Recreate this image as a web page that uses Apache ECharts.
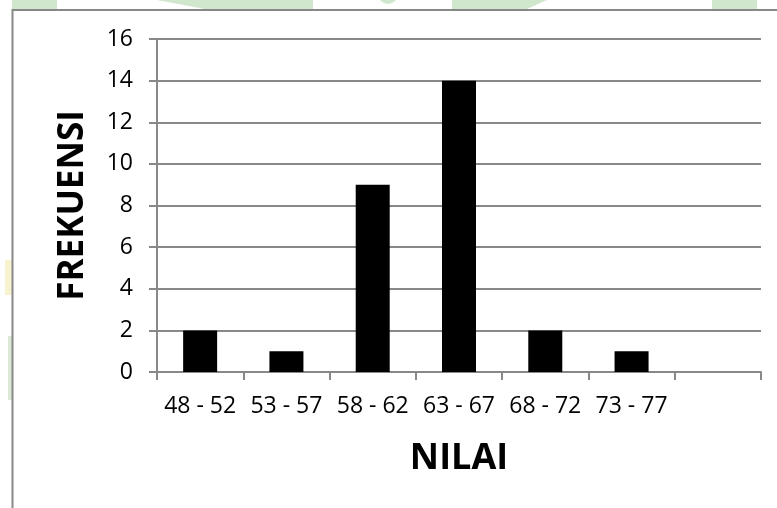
<!DOCTYPE html>
<html>
<head>
<meta charset="utf-8">
<script src="https://cdn.jsdelivr.net/npm/echarts@6/dist/echarts.min.js"></script>
<style>
  html, body { margin: 0; padding: 0; background: #fff; }
  #chart { width: 777px; height: 508px; }
</style>
</head>
<body>
<div id="chart"></div>
<script>
// class intervals (last slot is empty in the original)
const nilaiLabels = ['48 - 52', '53 - 57', '58 - 62', '63 - 67', '68 - 72', '73 - 77', '']
const frekuensi = [2, 1, 9, 14, 2, 1, null]
const yTicks = { min: 0, max: 16, step: 2 }

const gray = '#888888'
const wm = '#d0e6cd'

const chart = echarts.init(document.getElementById('chart'), null, { renderer: 'canvas' })

chart.setOption({
  animation: false,
  backgroundColor: '#fff',
  textStyle: { fontFamily: 'Open Sans' },
  grid: { left: 157, right: 16, top: 39, bottom: 136 },
  graphic: [
    // faint scan watermark bits along the top edge
    { type: 'rect', shape: { x: 12, y: 0, width: 45, height: 9 }, style: { fill: wm }, z: -1 },
    { type: 'polygon', shape: { points: [[157, 0], [313, 0], [313, 9], [205, 9]] }, style: { fill: wm }, z: -1 },
    { type: 'circle', shape: { cx: 388, cy: -6, r: 10 }, style: { fill: wm }, z: -1 },
    { type: 'polygon', shape: { points: [[452, 0], [547, 0], [527, 9], [452, 9]] }, style: { fill: wm }, z: -1 },
    { type: 'rect', shape: { x: 712, y: 0, width: 45, height: 9 }, style: { fill: wm }, z: -1 },
    { type: 'rect', shape: { x: 5, y: 260, width: 7, height: 35 }, style: { fill: '#f7f3cf' }, z: -1 },
    { type: 'rect', shape: { x: 8, y: 336, width: 4, height: 64 }, style: { fill: '#d9e9d6' }, z: -1 },
    // chart area border
    { type: 'polyline', shape: { points: [[12.5, 510], [12.5, 10], [780, 10]] }, style: { stroke: gray, lineWidth: 2, fill: null } }
  ],
  xAxis: {
    type: 'category',
    data: nilaiLabels,
    name: 'NILAI',
    nameLocation: 'middle',
    nameGap: 69,
    nameTextStyle: { fontSize: 36, fontWeight: 'bold', color: '#000' },
    axisLine: { lineStyle: { color: gray, width: 2 } },
    axisTick: { show: true, length: 8, lineStyle: { color: gray, width: 2 } },
    axisLabel: { color: '#000', fontSize: 23, margin: 23, interval: 0 },
    splitLine: { show: false }
  },
  yAxis: {
    type: 'value',
    min: yTicks.min,
    max: yTicks.max,
    interval: yTicks.step,
    name: 'FREKUENSI',
    nameLocation: 'middle',
    nameGap: 66,
    nameTextStyle: { fontSize: 35, fontWeight: 'bold', color: '#000' },
    axisLine: { show: true, lineStyle: { color: gray, width: 2 } },
    axisTick: { show: true, length: 8, lineStyle: { color: gray, width: 2 } },
    axisLabel: { color: '#000', fontSize: 23, margin: 24 },
    splitLine: { lineStyle: { color: gray, width: 2 } }
  },
  series: [{
    type: 'bar',
    data: frekuensi,
    barWidth: 34,
    itemStyle: { color: '#000' }
  }]
})
</script>
</body>
</html>
